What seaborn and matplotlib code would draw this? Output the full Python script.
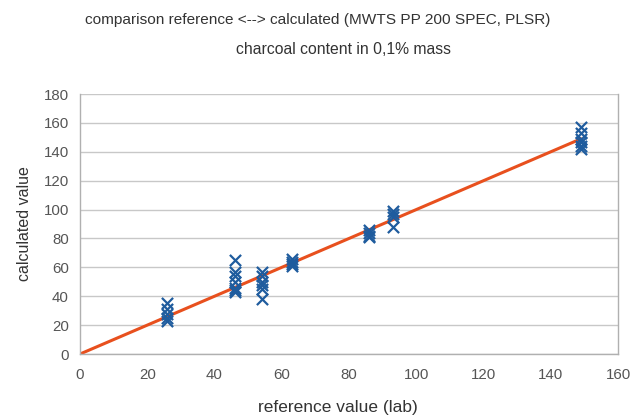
# comparison chart: reference vs calculated
import numpy as np
import pandas as pd
import seaborn as sb
from matplotlib import pyplot as plt

# reference (lab) values and the calculated values
ref_26 = [26, 26, 26, 26, 26]
calc_26 = [35, 31, 28, 25, 23]
ref_46 = [46, 46, 46, 46, 46, 46, 46]
calc_46 = [65, 57, 54, 50, 46, 44, 43]
ref_54 = [54, 54, 54, 54, 54, 54]
calc_54 = [57, 54, 50, 48, 45, 38]
ref_63 = [63, 63, 63, 63]
calc_63 = [66, 64, 62, 61]
ref_86 = [86, 86, 86, 86]
calc_86 = [86, 84, 82, 81]
ref_93 = [93, 93, 93, 93]
calc_93 = [99, 97, 95, 88]
ref_149 = [149, 149, 149, 149, 149, 149]
calc_149 = [157, 153, 149, 147, 144, 142]

# ideal line
line_x = [0, 149]
line_y = [0, 149]

points = pd.DataFrame({
    'reference': ref_26 + ref_46 + ref_54 + ref_63 + ref_86 + ref_93 + ref_149,
    'calculated': calc_26 + calc_46 + calc_54 + calc_63 + calc_86 + calc_93 + calc_149,
})
ideal = pd.DataFrame({'x': line_x, 'y': line_y})

sb.set_style('white')
plt.rcParams['font.family'] = ['Liberation Sans', 'DejaVu Sans']

fig = plt.figure(figsize=(6.3, 4.16), dpi=100)
ax = fig.add_axes([0.127, 0.149, 0.854, 0.625])

ax.yaxis.grid(True, color='#c8c8c8', linewidth=1)
ax.set_axisbelow(True)

sb.lineplot(data=ideal, x='x', y='y', color='#e8501e', linewidth=2.2, ax=ax)
sb.scatterplot(data=points, x='reference', y='calculated', marker='x',
               color='#1f5c9e', s=65, linewidth=1.6, ax=ax, zorder=3)

ax.set_xlim(0, 160)
ax.set_ylim(0, 180)
ax.set_xticks(np.arange(0, 161, 20))
ax.set_yticks(np.arange(0, 181, 20))
ax.tick_params(axis='both', direction='out', length=5, width=1, color='#b0b0b0',
               labelsize=10.8, labelcolor='#555555', pad=3)
ax.tick_params(axis='x', pad=5)

for s in ['left', 'bottom', 'right']:
    ax.spines[s].set_color('#b0b0b0')
    ax.spines[s].set_linewidth(1)
ax.spines['top'].set_visible(False)

ax.set_xlabel('reference value (lab)', fontsize=12.5, color='#333333')
ax.xaxis.set_label_coords(0.479, -0.175)
ax.set_ylabel('calculated value', fontsize=11.5, color='#333333', labelpad=8)

fig.text(0.505, 0.953, 'comparison reference <--> calculated (MWTS PP 200 SPEC, PLSR)',
         ha='center', va='center', fontsize=11.1, color='#333333')
fig.text(0.546, 0.880, 'charcoal content in 0,1% mass',
         ha='center', va='center', fontsize=11.3, color='#333333')

plt.savefig('out.png', dpi=100)
